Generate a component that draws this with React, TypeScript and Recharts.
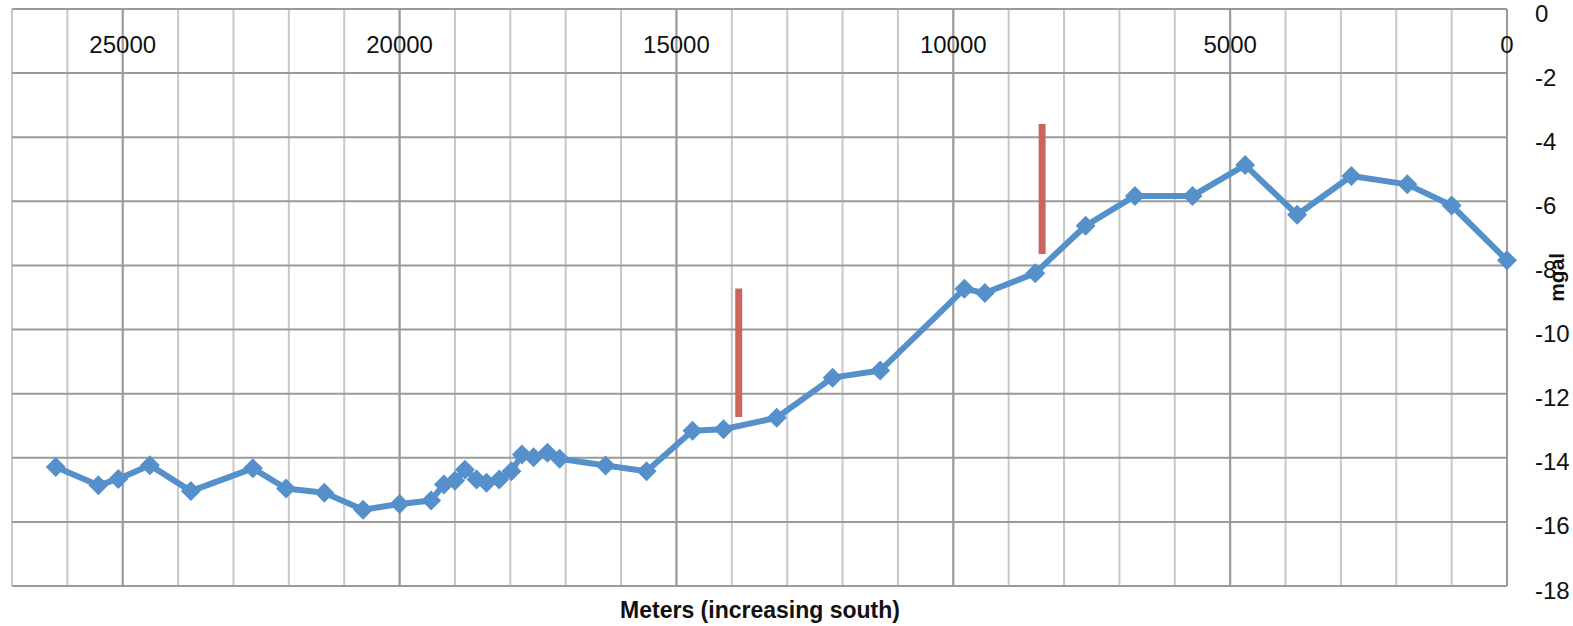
import React from "react";
import { LineChart, Line, XAxis, YAxis, CartesianGrid, ReferenceLine } from "recharts";

// distance along the profile (m) and gravity anomaly (mgal)
const distance = [
  26210, 25440, 25080, 24510, 23770, 22650, 22050, 21360, 20660, 20000,
  19430, 19200, 19000, 18820, 18610, 18430, 18200, 17980, 17790, 17580,
  17330, 17110, 16280, 15540, 14710, 14150, 13190, 12180, 11320, 9800,
  9430, 8520, 7610, 6720, 5680, 4730, 3790, 2810, 1800, 1000, 0,
];
const gravity = [
  -14.29, -14.86, -14.66, -14.23, -15.04, -14.33, -14.96, -15.09, -15.62, -15.44,
  -15.33, -14.83, -14.72, -14.37, -14.68, -14.78, -14.68, -14.42, -13.9, -13.98,
  -13.84, -14.03, -14.24, -14.42, -13.16, -13.11, -12.75, -11.5, -11.28, -8.73,
  -8.86, -8.24, -6.76, -5.83, -5.83, -4.87, -6.42, -5.21, -5.47, -6.13, -7.84,
];

// red marker bars (x position, top, bottom)
const markerX = [13875, 8396];
const markerTop = [-8.72, -3.59];
const markerBottom = [-12.73, -7.64];

const xTicks = [
  0, 1000, 2000, 3000, 4000, 5000, 6000, 7000, 8000, 9000, 10000, 11000, 12000, 13000,
  14000, 15000, 16000, 17000, 18000, 19000, 20000, 21000, 22000, 23000, 24000, 25000,
  26000, 27000,
];
const xLabelTicks = [0, 5000, 10000, 15000, 20000, 25000];
const yTicks = [-18, -16, -14, -12, -10, -8, -6, -4, -2, 0];

const profile = distance.map((x, i) => ({ x, y: gravity[i] }));
const markers = markerX.map((x, i) => [
  { x, y: markerTop[i] },
  { x, y: markerBottom[i] },
]);

const BLUE = "#5590CB";
const RED = "#CD655E";
const MINOR = "#C8C8C8";
const MAJOR = "#9A9A9A";
const FONT = "'Liberation Sans', Arial, sans-serif";
const PLOT_TOP = 9;

const Diamond = ({ cx, cy }: any) => {
  if (cx == null || cy == null) return <g />;
  const r = 10;
  return (
    <polygon
      points={`${cx},${cy - r} ${cx + r},${cy} ${cx},${cy + r} ${cx - r},${cy}`}
      fill={BLUE}
    />
  );
};

const XTick = ({ x, payload }: any) => {
  if (!xLabelTicks.includes(payload.value)) return <g />;
  return (
    <text x={x} y={PLOT_TOP + 35} dy="0.355em" textAnchor="middle" fontSize={24} fontFamily={FONT} fill="#111">
      {payload.value}
    </text>
  );
};

const YTick = ({ x, y, payload }: any) => (
  <text x={x + 2} y={y + 4} dy="0.355em" textAnchor="start" fontSize={24} fontFamily={FONT} fill="#111">
    {payload.value}
  </text>
);

const MgalLabel = ({ viewBox }: any) => {
  const cx = viewBox.x + viewBox.width - 16;
  const cy = viewBox.y + viewBox.height * 0.465;
  return (
    <text
      x={cx}
      y={cy}
      transform={`rotate(-90 ${cx} ${cy})`}
      textAnchor="middle"
      dy="0.355em"
      fontSize={21}
      fontWeight="bold"
      fontFamily={FONT}
      fill="#111"
    >
      mgal
    </text>
  );
};

export default function App() {
  return (
    <div style={{ position: "relative", width: 1573, height: 626, background: "#fff" }}>
      <style>{`body{margin:0}`}</style>
      <LineChart width={1573} height={626} margin={{ top: 8, right: 0, left: 12, bottom: 40 }}>
        <CartesianGrid horizontal={false} stroke={MINOR} strokeWidth={2} />
        <CartesianGrid vertical={false} stroke={MAJOR} strokeWidth={2} />
        <XAxis
          type="number"
          dataKey="x"
          orientation="top"
          height={1}
          domain={[0, 27000]}
          reversed
          ticks={xTicks}
          interval={0}
          tickLine={false}
          axisLine={false}
          tick={<XTick />}
          allowDuplicatedCategory={false}
        />
        <YAxis
          type="number"
          dataKey="y"
          orientation="right"
          width={66}
          domain={[-18, 0]}
          ticks={yTicks}
          interval={0}
          tickLine={false}
          axisLine={false}
          tickSize={0}
          tickMargin={26}
          tick={<YTick />}
          label={<MgalLabel />}
        />
        {xLabelTicks.map((v) => (
          <ReferenceLine key={v} x={v} stroke={MAJOR} strokeWidth={2} />
        ))}
        {markers.map((m, i) => (
          <Line
            key={i}
            data={m}
            dataKey="y"
            stroke={RED}
            strokeWidth={7}
            dot={false}
            activeDot={false}
            isAnimationActive={false}
          />
        ))}
        <Line
          data={profile}
          dataKey="y"
          type="linear"
          stroke={BLUE}
          strokeWidth={6}
          strokeLinejoin="round"
          dot={<Diamond />}
          activeDot={false}
          isAnimationActive={false}
        />
      </LineChart>
      <div
        style={{
          position: "absolute",
          left: 560,
          width: 400,
          top: 598,
          lineHeight: "24px",
          textAlign: "center",
          fontFamily: FONT,
          fontWeight: "bold",
          fontSize: 23,
          color: "#111",
        }}
      >
        Meters (increasing south)
      </div>
    </div>
  );
}
